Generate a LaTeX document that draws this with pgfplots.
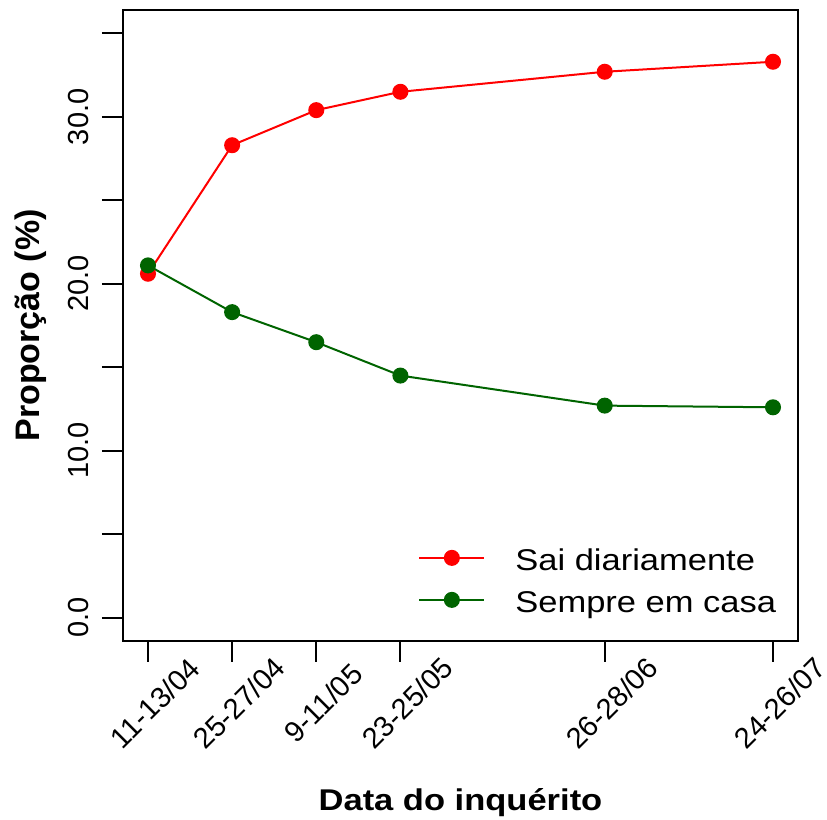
\documentclass[border=0pt]{standalone}
\usepackage{pgfplots}
\pgfplotsset{compat=1.18}
\usepackage{fontspec}
\setmainfont{Liberation Sans}
\newfontfamily\widesans[FakeStretch=1.15]{Liberation Sans}
\definecolor{rred}{RGB}{255,0,0}
\definecolor{rgreen}{RGB}{0,100,0}
\begin{document}
\begin{tikzpicture}
% page = the reference's frame round the axis box
\path[use as bounding box] (-61.5pt,-89.5pt) rectangle (352pt,320.5pt);
\begin{axis}[
    at={(0,0)}, anchor=south west,
    scale only axis, width=337.5pt, height=315.5pt,
    xmin=-4.16, xmax=108.16, ymin=-1.4, ymax=36.4,
    axis line style={line width=1pt},
    tick style={line width=1pt, black},
    tick align=outside, major tick length=10.5pt,
    xtick pos=bottom, ytick pos=left,
    xtick={0,14,28,42,76,104},
    xticklabels={11-13/04,25-27/04,9-11/05,23-25/05,26-28/06,24-26/07},
    ytick={0,5,10,15,20,25,30,35},
    yticklabels={0.0,,10.0,,20.0,,30.0,},
    tick label style={font=\fontsize{14.5}{16}\selectfont},
    xticklabel style={yshift=-20.5pt, xshift=3.5pt, rotate=45, anchor=center},
    yticklabel style={xshift=-6.5pt, rotate=90, anchor=base},
    xlabel={Data do inquérito},
    ylabel={Proporção (\%)},
    xlabel style={at={(axis description cs:0.5,-0.2694)}, anchor=base,
        font=\widesans\bfseries\fontsize{15}{18}\selectfont},
    ylabel style={at={(axis description cs:-0.1244,0.5)}, anchor=base,
        font=\bfseries\fontsize{17}{20}\selectfont},
    legend cell align=left,
    legend image code/.code={
        \draw[mark repeat=2, mark phase=2, yshift=5pt, #1] plot coordinates {(0pt,0pt) (16.25pt,0pt) (32.5pt,0pt)};
    },
    legend style={draw=none, fill=none, at={(axis description cs:0.437,0.1498)},
        anchor=north west, inner sep=0pt, row sep=0pt, column sep=15pt,
        font=\widesans\fontsize{15}{18}\selectfont,
        nodes={inner sep=0pt, text height=12pt, text depth=9pt}},
]
\addplot[rred, line width=1pt, mark=*, mark size=3.5pt] coordinates {
    (0,20.6) (14,28.3) (28,30.4) (42,31.5) (76,32.7) (104,33.3)
};
\addlegendentry{Sai diariamente}
\addplot[rgreen, line width=1pt, mark=*, mark size=3.5pt] coordinates {
    (0,21.1) (14,18.3) (28,16.5) (42,14.5) (76,12.7) (104,12.6)
};
\addlegendentry{Sempre em casa}
\end{axis}
\end{tikzpicture}
\end{document}
